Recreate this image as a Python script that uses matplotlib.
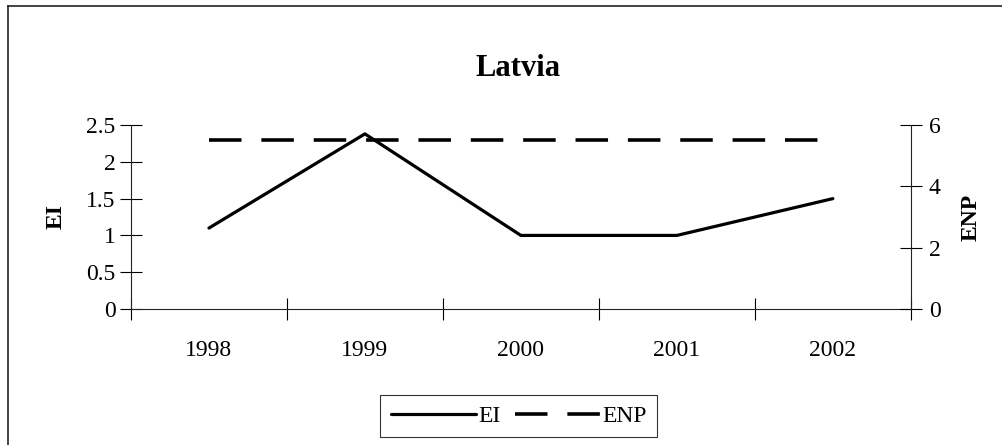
import matplotlib.pyplot as plt
from matplotlib.lines import Line2D
import numpy as np

years = ["1998", "1999", "2000", "2001", "2002"]
ei = [1.1, 2.38, 1.0, 1.0, 1.5]
enp = [5.5, 5.5, 5.5, 5.5, 5.5]

plt.rcParams["font.family"] = ["Liberation Serif", "DejaVu Serif"]

fig = plt.figure(figsize=(10.02, 4.45), dpi=100)
ax = fig.add_axes([0.1307, 0.3056, 0.909 - 0.1307, 0.719 - 0.3056])
ax2 = ax.twinx()

x = np.arange(len(years))
l1, = ax.plot(x, ei, color="black", lw=2.3, solid_capstyle="round")
l2, = ax2.plot(x, enp, color="black", lw=2.6, dashes=(9, 5.5))

ax.set_xlim(-0.5, len(years) - 0.5)
ax.set_ylim(0, 2.5)
ax2.set_ylim(0, 6)
ax.set_yticks([0, 0.5, 1, 1.5, 2, 2.5])
ax.set_yticklabels(["0", "0.5", "1", "1.5", "2", "2.5"])
ax2.set_yticks([0, 2, 4, 6])

ax.set_xticks(x)
ax.set_xticklabels(years)
ax.set_xticks(np.arange(-0.5, len(years)), minor=True)
ax.tick_params(axis="x", which="major", length=0, pad=22, labelsize=17)
ax.tick_params(axis="x", which="minor", direction="inout", length=16, width=0.8)
ax.tick_params(axis="y", direction="inout", length=16, width=0.8, labelsize=17, pad=3)
ax2.tick_params(axis="y", direction="inout", length=16, width=0.8, labelsize=17, pad=5)

for a in (ax, ax2):
    a.spines["top"].set_visible(False)
    for s in a.spines.values():
        s.set_linewidth(0.8)
        s.set_color("#222222")
ax.spines["right"].set_visible(False)
ax2.spines["left"].set_visible(False)
ax2.spines["bottom"].set_visible(False)

ax.set_ylabel("EI", fontsize=17, fontweight="bold", labelpad=14)
ax2.set_ylabel("ENP", fontsize=17, fontweight="bold", labelpad=14)
fig.text(0.5166, 0.846, "Latvia", ha="center", va="center", fontsize=22, fontweight="bold")

leg = fig.legend([l1, l2], ["EI", "ENP"], loc="center", bbox_to_anchor=(0.5176, 0.065),
                 ncol=2, fontsize=17, frameon=True, fancybox=False, handlelength=3.6,
                 handletextpad=0.1, columnspacing=0.6, borderpad=0.45, borderaxespad=0,
                 edgecolor="black")
leg.get_frame().set_linewidth(0.8)

# outer chart border (top and left edges visible)
fig.add_artist(Line2D([0.008, 1.0], [0.986, 0.986], transform=fig.transFigure, color="#222222", lw=1.2))
fig.add_artist(Line2D([0.008, 0.008], [0.0, 0.986], transform=fig.transFigure, color="#222222", lw=1.2))

fig.savefig("out.png", dpi=100)
